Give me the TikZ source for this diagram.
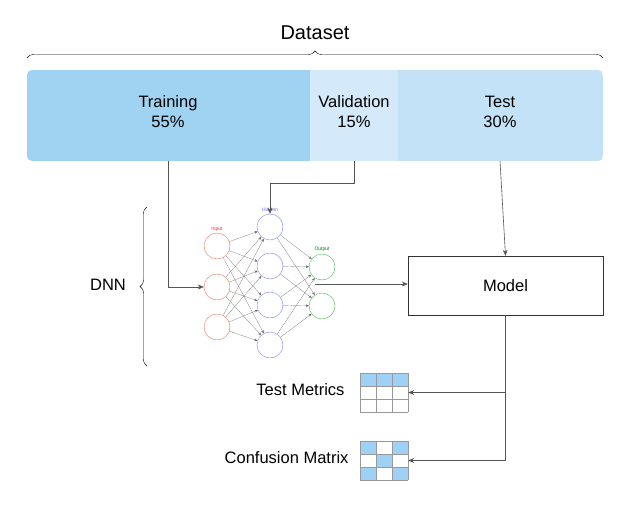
\documentclass[tikz,border=0pt]{standalone}
\usepackage{fontspec}
\setmainfont{Liberation Sans}
\usetikzlibrary{arrows.meta,decorations.pathreplacing}
\definecolor{trainC}{HTML}{A0D3F1}
\definecolor{valC}{HTML}{D4EAFB}
\definecolor{testC}{HTML}{C3E2F7}
\definecolor{cellC}{HTML}{9FD0F5}
\definecolor{arrC}{HTML}{555555}
\begin{document}
\begin{tikzpicture}[x=1pt,y=-1pt,
  conn/.style={draw=arrC,semithick,-{Stealth[length=6pt,width=5pt]}},
  neuron/.style={circle,draw,thin,minimum size=26pt,inner sep=0pt,fill=white},
  nnedge/.style={draw=black!60,very thin,-{Stealth[length=3pt,width=2.5pt]}},
  tiny/.style={font=\fontsize{5}{5}\selectfont\rmfamily},
  lbl/.style={font=\fontsize{16.5}{20}\selectfont,align=center}]
  \useasboundingbox (0,0) rectangle (623,505);
  % dataset bar
  \begin{scope}
    \clip[rounded corners=5pt] (27,70) rectangle (603,161);
    \fill[trainC] (27,70) rectangle (310,161);
    \fill[valC] (310,70) rectangle (398,161);
    \fill[testC] (398,70) rectangle (603,161);
  \end{scope}
  \node[lbl] (train) at (168,112) {Training\\55\%};
  \node[lbl] (val) at (354,112) {Validation\\15\%};
  \node[lbl] (test) at (500,112) {Test\\30\%};
  \coordinate (trainB) at (168,161);
  \coordinate (valB) at (354,161);
  \coordinate (testB) at (500,161);
  \draw[decorate,decoration={brace,amplitude=7pt},thin] (27,58) -- (603,58);
  \node[font=\fontsize{20}{22}\selectfont] (dataset) at (315,33) {Dataset};
  % neural network
  \foreach \i/\y in {1/246,2/287,3/327} \node[neuron,draw=red!50!brown!70] (in\i) at (217,\y) {};
  \foreach \i/\y in {1/227,2/266,3/305,4/345} \node[neuron,draw=blue!50] (hid\i) at (270,\y) {};
  \foreach \i/\y in {1/267,2/306} \node[neuron,draw=green!60!black!70] (out\i) at (322,\y) {};
  \foreach \i in {1,2,3} \foreach \j in {1,2,3,4} \draw[nnedge] (in\i) -- (hid\j);
  \foreach \j in {1,2,3,4} \foreach \k in {1,2} \draw[nnedge] (hid\j) -- (out\k);
  \node[tiny,text=red!60!brown] (inL) at (217,229) {Input};
  \node[tiny,text=blue!60] (hidL) at (270,210) {Hidden};
  \node[tiny,text=green!50!black] (outL) at (322,249) {Output};
  \draw[decorate,decoration={brace,amplitude=7pt},thin] (147,366) -- (147,207);
  \node[lbl] (dnn) at (108,285) {DNN};
  % model and outputs
  \node[draw=black!80,minimum width=195pt,minimum height=59pt,lbl] (model) at (505.5,285.5) {Model};
  \coordinate (nnOut) at (315,284);
  \draw[conn] (trainB) |- (in2.west);
  \draw[conn] (valB) |- (270,183) -- (hid1.north);
  \draw[conn] (testB) -- (model.north);
  \draw[conn] (nnOut) -- (model.west |- nnOut);
  % grids
  \foreach \c in {0,1,2} \fill[cellC] (360+16*\c,373) rectangle +(16,13);
  \foreach \c/\r in {0/0,2/0,1/1,0/2,2/2} \fill[cellC] (360+16*\c,441+13*\r) rectangle +(16,13);
  \foreach \top in {373,441} {
    \foreach \k in {0,1,2,3} {
      \draw[black!40] (360+16*\k,\top) -- (360+16*\k,\top+39);
      \draw[black!40] (360,\top+13*\k) -- (408,\top+13*\k);
    }
  }
  \node[minimum width=48pt,minimum height=39pt] (metrics) at (384,392.5) {};
  \node[minimum width=48pt,minimum height=39pt] (confusion) at (384,460.5) {};
  \node[lbl,anchor=east] (metricsL) at (348,390) {Test Metrics};
  \node[lbl,anchor=east] (confusionL) at (352,458) {Confusion Matrix};
  \draw[conn] (model.south) |- (confusion.east);
  \draw[conn] (model.south |- metrics.east) -- (metrics.east);
\end{tikzpicture}
\end{document}
